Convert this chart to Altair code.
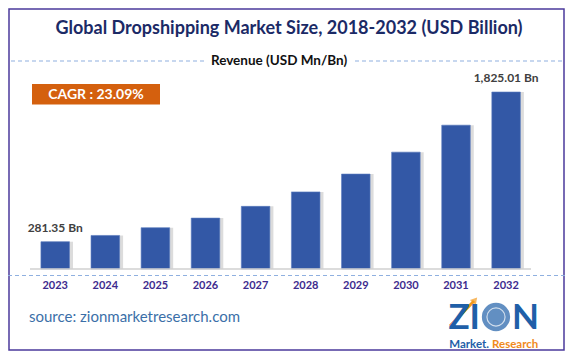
import altair as alt
import pandas as pd

years = ["2023", "2024", "2025", "2026", "2027", "2028", "2029", "2030", "2031", "2032"]
revenue = [281.35, 346.0, 426.0, 525.0, 646.0, 795.0, 979.0, 1205.0, 1483.0, 1825.01]
value_labels = ["281.35 Bn", "", "", "", "", "", "", "", "", "1,825.01 Bn"]

title_text = "Global Dropshipping Market Size, 2018-2032 (USD Billion)"
legend_text = "Revenue (USD Mn/Bn)"
cagr_text = "CAGR : 23.09%"
source_text = "source: zionmarketresearch.com"

df = pd.DataFrame({"year": years, "revenue": revenue, "label": value_labels})
one = pd.DataFrame({"a": [0]})

W, H = 557, 343
FONT = "Lato"

xs = alt.Scale(domain=years, range=[22.15, 523.15], paddingInner=0.43, paddingOuter=0.215)
xs_sh = alt.Scale(domain=years, range=[25.65, 526.65], paddingInner=0.43, paddingOuter=0.215)
ys = alt.Scale(domain=[0, 1825.01], range=[261, 84], nice=False, zero=True)

X = alt.X("year:N", scale=xs, axis=None)
Y = alt.Y("revenue:Q", scale=ys, axis=None)

border = alt.Chart(one).mark_rect(fill="white", stroke="#4b3a9c", strokeWidth=1.5).encode(
    x=alt.value(1), x2=alt.value(556), y=alt.value(1), y2=alt.value(342))

title = alt.Chart(one).mark_text(text=title_text, font=FONT, fontSize=18, fontWeight="bold",
                                 color="#1b2a66", baseline="middle").encode(
    x=alt.value(281), y=alt.value(21))

legend = alt.Chart(one).mark_text(text=legend_text, font=FONT, fontSize=13.5, fontWeight="bold",
                                  color="#111111", baseline="middle").encode(
    x=alt.value(271), y=alt.value(53))
dash_l = alt.Chart(one).mark_rule(color="#8fb0e0", strokeDash=[4, 3], strokeWidth=1.2).encode(
    x=alt.value(3), x2=alt.value(196), y=alt.value(53))
dash_r = alt.Chart(one).mark_rule(color="#8fb0e0", strokeDash=[4, 3], strokeWidth=1.2).encode(
    x=alt.value(347), x2=alt.value(556), y=alt.value(53))
dash_b = alt.Chart(one).mark_rule(color="#8fb0e0", strokeDash=[4, 3], strokeWidth=1.2).encode(
    x=alt.value(0), x2=alt.value(557), y=alt.value(267.5))

cagr_box = alt.Chart(one).mark_rect(color="#d4600e").encode(
    x=alt.value(24), x2=alt.value(152), y=alt.value(76), y2=alt.value(96.5))
cagr = alt.Chart(one).mark_text(text=cagr_text, font=FONT, fontSize=14, fontWeight="bold",
                                color="white", baseline="middle").encode(
    x=alt.value(88), y=alt.value(86.5))

shadow = alt.Chart(df).mark_bar(color="#8a8a8a", opacity=0.3).encode(
    x=alt.X("year:N", scale=xs_sh, axis=None), y=Y, y2=alt.datum(0))
bars = alt.Chart(df).mark_bar(color="#3358a6", stroke="#5a7cc0", strokeWidth=0.6).encode(
    x=X, y=Y, y2=alt.datum(0))
baseline = alt.Chart(one).mark_rule(color="#d0d0d0", strokeWidth=1.5).encode(
    x=alt.value(22), x2=alt.value(523), y=alt.value(261))

vlabels = alt.Chart(df).mark_text(font=FONT, fontSize=12, fontWeight="bold", color="#404040",
                                  baseline="middle", dy=-14).encode(
    x=X, y=Y, text="label:N")
ylabels = alt.Chart(df).mark_text(font=FONT, fontSize=11, fontWeight="bold", color="#3d2b8e",
                                  baseline="middle").encode(
    x=X, y=alt.value(278), text="year:N")

source = alt.Chart(one).mark_text(text=source_text, font=FONT, fontSize=15, color="#3b6fa8",
                                  align="left", baseline="middle").encode(
    x=alt.value(21), y=alt.value(309))

logo_zi = alt.Chart(one).mark_text(text="ZI", font=FONT, fontSize=35, fontWeight="bold",
                                   color="#1f5fa8", align="right", baseline="alphabetic").encode(
    x=alt.value(472), y=alt.value(321))
logo_globe = alt.Chart(one).mark_point(filled=True, color="#1f5fa8", size=800, shape="circle").encode(
    x=alt.value(488), y=alt.value(309))
logo_globe2 = alt.Chart(one).mark_point(filled=False, color="white", size=330, strokeWidth=1.2,
                                        shape="circle").encode(
    x=alt.value(488), y=alt.value(309))
logo_n = alt.Chart(one).mark_text(text="N", font=FONT, fontSize=35, fontWeight="bold",
                                  color="#1f5fa8", align="left", baseline="alphabetic").encode(
    x=alt.value(504), y=alt.value(321))
logo_arrow = alt.Chart(one).mark_rule(color="#f39a1e", strokeWidth=3).encode(
    x=alt.value(442), x2=alt.value(466), y=alt.value(318), y2=alt.value(293))
logo_head = alt.Chart(one).mark_point(filled=True, color="#f39a1e", shape="triangle-up", size=60,
                                      angle=40).encode(
    x=alt.value(467), y=alt.value(292))
logo_m = alt.Chart(one).mark_text(text="Market.", font=FONT, fontSize=11.5, fontWeight="bold",
                                  color="#1f5fa8", align="right", baseline="middle").encode(
    x=alt.value(481), y=alt.value(336.5))
logo_r = alt.Chart(one).mark_text(text="Research", font=FONT, fontSize=11.5, fontWeight="bold",
                                  color="#f08a1c", align="left", baseline="middle").encode(
    x=alt.value(484), y=alt.value(336.5))

chart = alt.layer(
    border, title, legend, dash_l, dash_r, dash_b, cagr_box, cagr,
    shadow, bars, baseline, vlabels, ylabels, source,
    logo_arrow, logo_head, logo_zi, logo_globe, logo_globe2, logo_n, logo_m, logo_r
).resolve_scale(x="independent").properties(
    width=W, height=H, padding=0, autosize=alt.AutoSizeParams(type="none"),
    background="white"
).configure_view(stroke=None)

chart.save("out.html", embed_options={"renderer": "svg", "actions": False})
